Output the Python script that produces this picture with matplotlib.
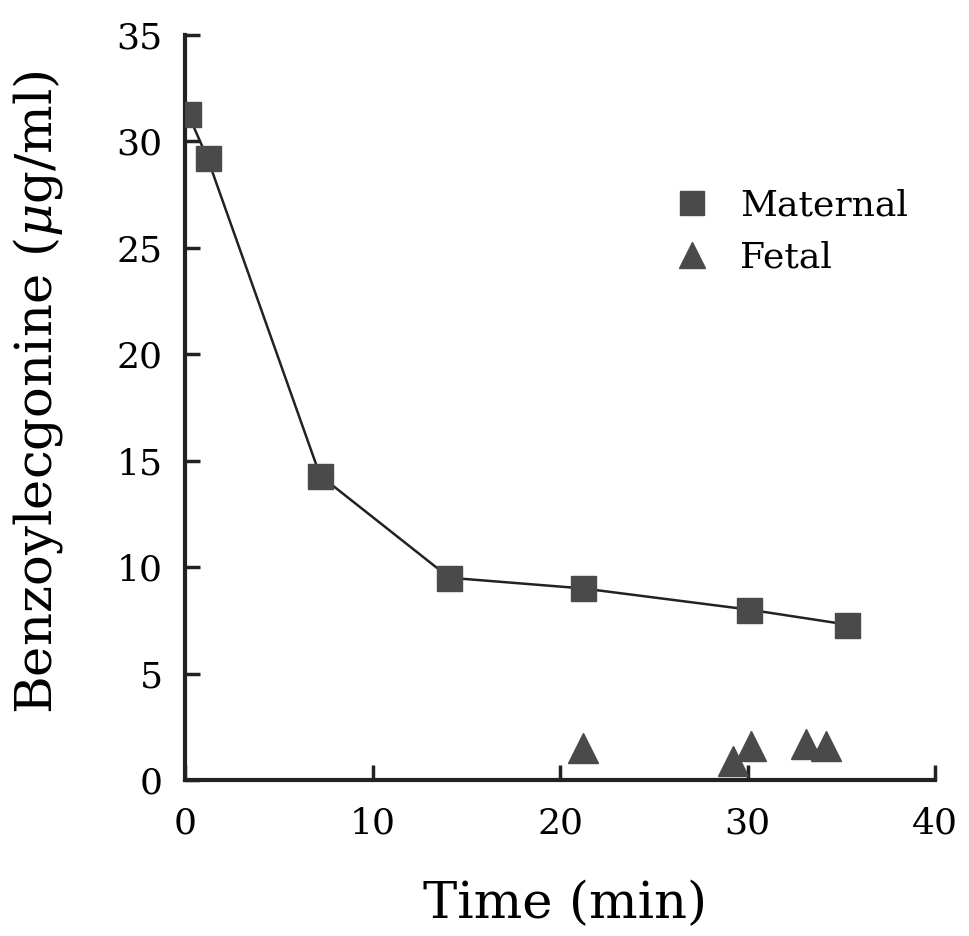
import matplotlib
matplotlib.use("Agg")
import matplotlib.pyplot as plt
from matplotlib.lines import Line2D

maternal_time = [0.15, 1.2, 7.2, 14.1, 21.2, 30.1, 35.3]
maternal_conc = [31.3, 29.2, 14.3, 9.5, 9.0, 8.0, 7.3]
fetal_time = [21.2, 29.2, 30.2, 33.1, 34.2]
fetal_conc = [1.5, 0.9, 1.6, 1.7, 1.6]
x_ticks = [0, 10, 20, 30, 40]
y_ticks = [0, 5, 10, 15, 20, 25, 30, 35]

plt.rcParams['font.family'] = ['DejaVu Serif']
plt.rcParams['mathtext.fontset'] = 'dejavuserif'

fig = plt.figure(figsize=(9.69, 9.36), dpi=100)
ax = fig.add_axes([0.191, 0.1667, 0.774, 0.796])

mcol = '#4a4a4a'
ax.plot(maternal_time, maternal_conc, color='#222222', lw=1.8, zorder=2)
ax.plot(maternal_time, maternal_conc, ls='none', marker='s', ms=18,
        color=mcol, mec=mcol, zorder=3)
ax.plot(fetal_time, fetal_conc, ls='none', marker='^', ms=21,
        color=mcol, mec=mcol, zorder=3)

ax.set_xlim(0, 40)
ax.set_ylim(0, 35)
ax.set_xticks(x_ticks)
ax.set_yticks(y_ticks)
for s in ['top', 'right']:
    ax.spines[s].set_visible(False)
for s in ['left', 'bottom']:
    ax.spines[s].set_linewidth(3)
    ax.spines[s].set_color('#222222')
ax.tick_params(axis='both', direction='in', length=11, width=2.5,
               labelsize=26, color='#222222')
ax.tick_params(axis='x', pad=19)
ax.tick_params(axis='y', pad=16)

fig.text(565 / 969, 1 - 918 / 936, 'Time (min)', fontsize=37,
         ha='center', va='baseline')
fig.text(52 / 969, 1 - 392 / 936, r'Benzoylecgonine ($\mu$g/ml)', fontsize=37,
         rotation=90, rotation_mode='anchor', ha='center', va='baseline')

handles = [Line2D([], [], ls='none', marker='s', ms=17, color=mcol),
           Line2D([], [], ls='none', marker='^', ms=19, color=mcol)]
ax.legend(handles, ['Maternal', 'Fetal'], loc='upper left',
          bbox_to_anchor=(0.608, 0.813), frameon=False, fontsize=26,
          handletextpad=0.35, labelspacing=0.5, borderaxespad=0)

fig.savefig('out.png', dpi=100, facecolor='white')
